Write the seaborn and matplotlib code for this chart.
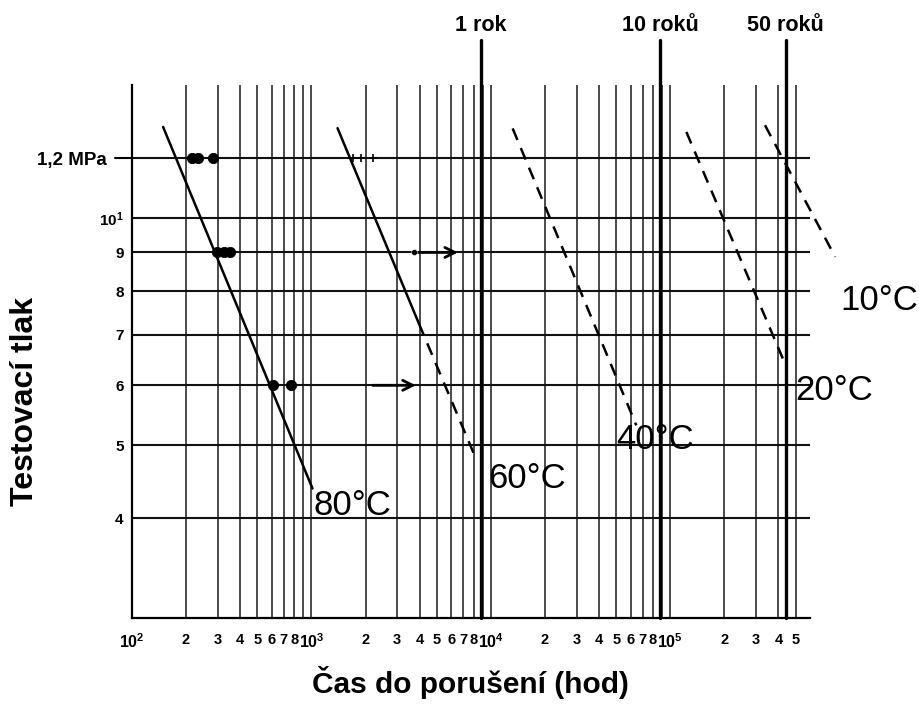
import numpy as np
import pandas as pd
import seaborn as sns
import matplotlib.pyplot as plt
from matplotlib.ticker import NullLocator, NullFormatter
import matplotlib.transforms as mtransforms

# values (time in hours, pressure in MPa)
years_h = [8760, 87600, 438000]
years_lab = ['1 rok', '10 roků', '50 roků']

# 80 C test results
t80_pts = [216, 234, 284, 297, 324, 353, 611, 764]
p80_pts = [12, 12, 12, 9, 9, 9, 6, 6]
# 60 C marks at 1,2 MPa
t60_pts = [1694, 1880, 2193]
p60_pts = [12, 12, 12]

# fitted lines
t80 = [149, 1013]
p80 = [13.2, 4.38]
t60 = [1397, 3972]
p60 = [13.15, 7.24]
t60_ext = [3972, 8240]
p60_ext = [7.24, 4.80]
t40 = [13210, 64570]
p40 = [13.14, 5.31]
t20 = [122700, 435000]
p20 = [13.0, 6.41]
t10 = [336500, 828000]
p10 = [13.27, 8.88]

# tests still running (arrows)
arrow_p = [9, 6]
arrow_from = [3715, 2193]
arrow_to = [6548, 3810]

temp_labels = ['80°C', '60°C', '40°C', '20°C', '10°C']
temp_lab_t = [1026, 9610, 49900, 4.93e5, 8.8e5]
temp_lab_p = [4.16, 4.52, 5.08, 5.91, 7.78]

yticks = [4, 5, 6, 7, 8, 9, 10, 12]
ytick_labels = ['4', '5', '6', '7', '8', '9', r'$\mathbf{10^{1}}$', '1,2 MPa']
xmajor = [1e2, 1e3, 1e4, 1e5]
xmajor_labels = [r'$\mathbf{10^{2}}$', r'$\mathbf{10^{3}}$',
                 r'$\mathbf{10^{4}}$', r'$\mathbf{10^{5}}$']
xminor = [m * 10**d for d in (2, 3, 4) for m in range(2, 10)] + [2e5, 3e5, 4e5, 5e5]
xminor_labels = ['2', '3', '4', '5', '6', '7', '8', ''] * 3 + ['2', '3', '4', '5']

sns.set_style('white')
plt.rcParams['font.family'] = ['Liberation Sans', 'DejaVu Sans']
plt.rcParams['mathtext.fontset'] = 'custom'
plt.rcParams['mathtext.rm'] = 'Liberation Sans'
plt.rcParams['mathtext.bf'] = 'Liberation Sans:bold'
for k in ['text.color', 'axes.labelcolor', 'xtick.color', 'ytick.color']:
    plt.rcParams[k] = 'black'

fig = plt.figure(figsize=(9.2, 7.04), dpi=100)
ax = fig.add_axes([0.1435, 0.1222, 0.737, 0.757])
ax.set_xscale('log')
ax.set_yscale('log')
ax.set_xlim(1e2, 6e5)
ax.set_ylim(2.95, 15)

# grid
ax.set_yticks(yticks)
ax.set_yticklabels(ytick_labels)
ax.yaxis.set_minor_locator(NullLocator())
ax.yaxis.set_minor_formatter(NullFormatter())
ax.set_xticks(xmajor)
ax.set_xticklabels(xmajor_labels)
ax.set_xticks(xminor, minor=True)
ax.set_xticklabels(xminor_labels, minor=True)
ax.xaxis.grid(True, which='both', color='#1a1a1a', lw=1.1)
ax.yaxis.grid(True, which='major', color='#111111', lw=1.5)
ax.set_axisbelow(True)

ax.tick_params(axis='x', which='both', length=0, pad=11, labelsize=10.5)
ax.tick_params(axis='x', which='major', labelsize=11.5, pad=10)
ax.tick_params(axis='y', which='major', length=0, pad=6, labelsize=11)
for lab in ax.get_xticklabels(which='both') + ax.get_yticklabels():
    lab.set_fontweight('bold')
# 1,2 MPa label sits further out, its grid line pokes past the axis
t12 = ax.yaxis.get_major_ticks()[-1]
t12.set_pad(18)
t12.label1.set_fontsize(13.5)
ax.axhline(yticks[-1], xmin=-0.025, xmax=0, color='k', lw=1.5, clip_on=False)

for s in ['top', 'right']:
    ax.spines[s].set_visible(False)
for s in ['left', 'bottom']:
    ax.spines[s].set_color('k')
    ax.spines[s].set_linewidth(1.6)

# year lines
trans = mtransforms.blended_transform_factory(ax.transData, ax.transAxes)
for th, lab in zip(years_h, years_lab):
    ax.axvline(th, ymin=0, ymax=1.085, color='k', lw=2.4, clip_on=False)
    ax.text(th, 1.112, lab, transform=trans, ha='center', va='center',
            fontsize=15.5, fontweight='bold')

# fitted lines
dash = (0, (5, 3.5))
sns.lineplot(x=t80, y=p80, ax=ax, color='k', lw=1.8)
sns.lineplot(x=t60, y=p60, ax=ax, color='k', lw=1.8)
sns.lineplot(x=t60_ext, y=p60_ext, ax=ax, color='k', lw=1.8, linestyle=dash)
sns.lineplot(x=t40, y=p40, ax=ax, color='k', lw=1.8, linestyle=dash)
sns.lineplot(x=t20, y=p20, ax=ax, color='k', lw=1.8, linestyle=dash)
sns.lineplot(x=t10, y=p10, ax=ax, color='k', lw=1.8, linestyle=dash, clip_on=False)

# test points
sns.scatterplot(x=t80_pts, y=p80_pts, ax=ax, color='k', s=55, edgecolor='k', zorder=5)
sns.scatterplot(x=t60_pts, y=p60_pts, ax=ax, color='k', marker='+', s=30,
                linewidth=1.2, zorder=5)

# run-outs
for a, b, p in zip(arrow_from, arrow_to, arrow_p):
    ax.annotate('', xy=(b, p), xytext=(a, p),
                arrowprops=dict(arrowstyle='->', color='k', lw=2,
                                mutation_scale=18, shrinkA=0, shrinkB=0))
sns.scatterplot(x=arrow_from[:1], y=arrow_p[:1], ax=ax, color='k', s=18, zorder=5)

for lab, t, p in zip(temp_labels, temp_lab_t, temp_lab_p):
    ax.text(t, p, lab, ha='left', va='center', fontsize=25, clip_on=False)

ax.set_xlabel('')
ax.set_ylabel('')
fig.text(0.027, 0.429, 'Testovací tlak', rotation=90, ha='center', va='center',
         fontsize=23, fontweight='bold')
fig.text(0.511, 0.03, 'Čas do porušení (hod)', ha='center', va='center',
         fontsize=21.5, fontweight='bold')

fig.savefig('out.png', dpi=100, facecolor='white')
